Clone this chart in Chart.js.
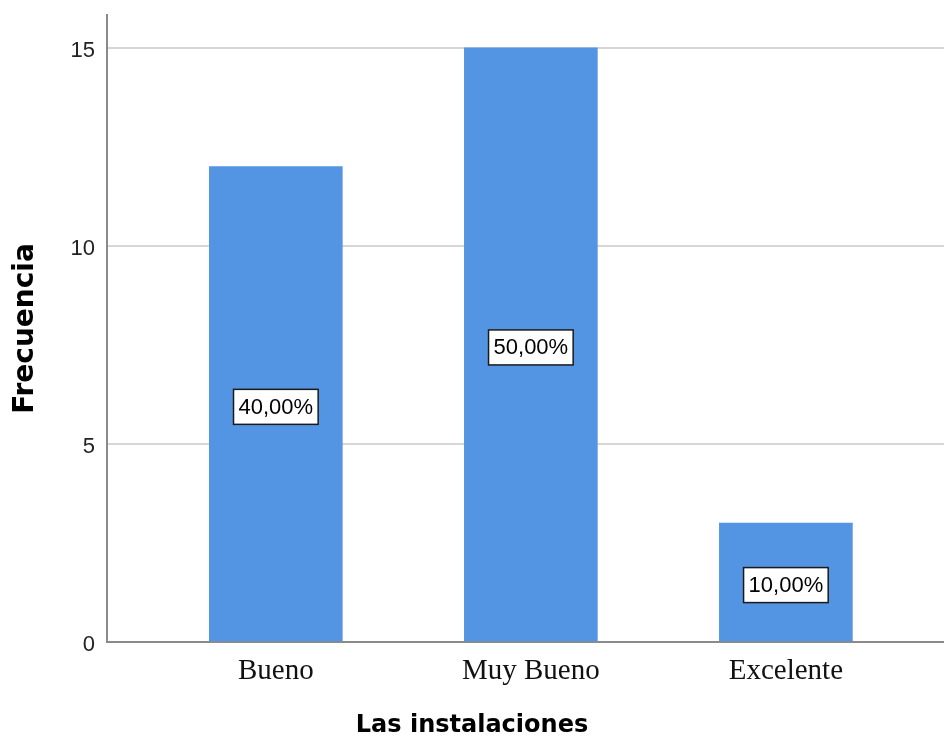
<!DOCTYPE html>
<html>
<head>
<meta charset="utf-8">
<title>Las instalaciones</title>
<script src="https://cdn.jsdelivr.net/npm/chart.js@4"></script>
<style>
  html, body { margin: 0; padding: 0; background: #fff; }
  canvas { display: block; }
</style>
</head>
<body>
<canvas id="myChart" width="944" height="740"></canvas>
<script>
// categories and frequencies
const categorias = ['Bueno', 'Muy Bueno', 'Excelente'];
const frecuencias = [12, 15, 3];
const yTicks = [0, 5, 10, 15];

// bar positions on the linear x axis (1, 2, 3)
const posiciones = categorias.map((c, i) => i + 1);

const total = frecuencias.reduce((a, b) => a + b, 0);

/**
 * Draws the percentage box in the middle of every bar.
 */
const etiquetas = {
    id: 'etiquetas',
    afterDatasetsDraw(chart) {
        const ctx = chart.ctx;
        const meta = chart.getDatasetMeta(0);
        ctx.save();
        ctx.font = '22px "Liberation Sans", Arial, sans-serif';
        ctx.textAlign = 'center';
        ctx.textBaseline = 'middle';
        meta.data.forEach((bar, i) => {
            const pct = (frecuencias[i] / total * 100).toFixed(2).replace('.', ',') + '%';
            const cy = (bar.y + bar.base) / 2 + 3;
            const w = ctx.measureText(pct).width + 10;
            const h = 35;
            ctx.fillStyle = '#ffffff';
            ctx.fillRect(bar.x - w / 2, cy - h / 2, w, h);
            ctx.lineWidth = 1.5;
            ctx.strokeStyle = '#1a1a1a';
            ctx.strokeRect(bar.x - w / 2, cy - h / 2, w, h);
            ctx.fillStyle = '#000';
            ctx.fillText(pct, bar.x, cy + 1);
        });
        ctx.restore();
    }
};

const ctx = document.getElementById('myChart').getContext('2d');
new Chart(ctx, {
    type: 'bar',
    data: {
        datasets: [{
            data: posiciones.map((x, i) => ({ x: x, y: frecuencias[i] })),
            backgroundColor: '#5495e3',
            borderWidth: 0,
            barThickness: 133
        }]
    },
    options: {
        responsive: false,
        animation: false,
        layout: { padding: { top: 15, right: 0, bottom: 0, left: 0 } },
        plugins: {
            legend: { display: false },
            tooltip: { enabled: false },
            // x axis title, centred on the whole canvas
            title: {
                display: true,
                position: 'bottom',
                text: 'Las instalaciones',
                color: '#000',
                font: { family: '"DejaVu Sans", sans-serif', size: 24, weight: 'bold', lineHeight: 1.2 },
                padding: { top: 0, bottom: 0 }
            }
        },
        scales: {
            x: {
                type: 'linear',
                offset: false,
                min: 0.338,
                max: 3.62,
                afterBuildTicks: axis => { axis.ticks = posiciones.map(v => ({ value: v })); },
                afterFit: axis => {
                    axis.height = 69.2;
                    axis.paddingLeft = 0;
                    axis.paddingRight = 0;
                },
                grid: { display: false, drawTicks: false },
                border: { display: true, color: '#8a8a8a', width: 2 },
                ticks: {
                    padding: 12,
                    color: '#111',
                    font: { family: '"Liberation Serif", "Times New Roman", serif', size: 29 },
                    callback: v => categorias[v - 1]
                }
            },
            y: {
                min: 0,
                max: 15.83,
                afterBuildTicks: axis => { axis.ticks = yTicks.map(v => ({ value: v })); },
                afterFit: axis => {
                    axis.width = 107;
                    axis.paddingTop = 0;
                    axis.paddingBottom = 0;
                },
                grid: {
                    drawTicks: false,
                    lineWidth: 2,
                    color: c => (c.tick && c.tick.value === 0) ? 'rgba(0,0,0,0)' : '#d6d6d6'
                },
                border: { display: true, color: '#8a8a8a', width: 2 },
                ticks: {
                    padding: 12,
                    labelOffset: 3,
                    color: '#222',
                    font: { family: '"Liberation Sans", Arial, sans-serif', size: 22 }
                },
                title: {
                    display: true,
                    text: 'Frecuencia',
                    color: '#000',
                    font: { family: '"DejaVu Sans", sans-serif', size: 28, weight: 'bold' },
                    padding: { top: 9, bottom: 0 }
                }
            }
        }
    },
    plugins: [etiquetas]
});
</script>
</body>
</html>
